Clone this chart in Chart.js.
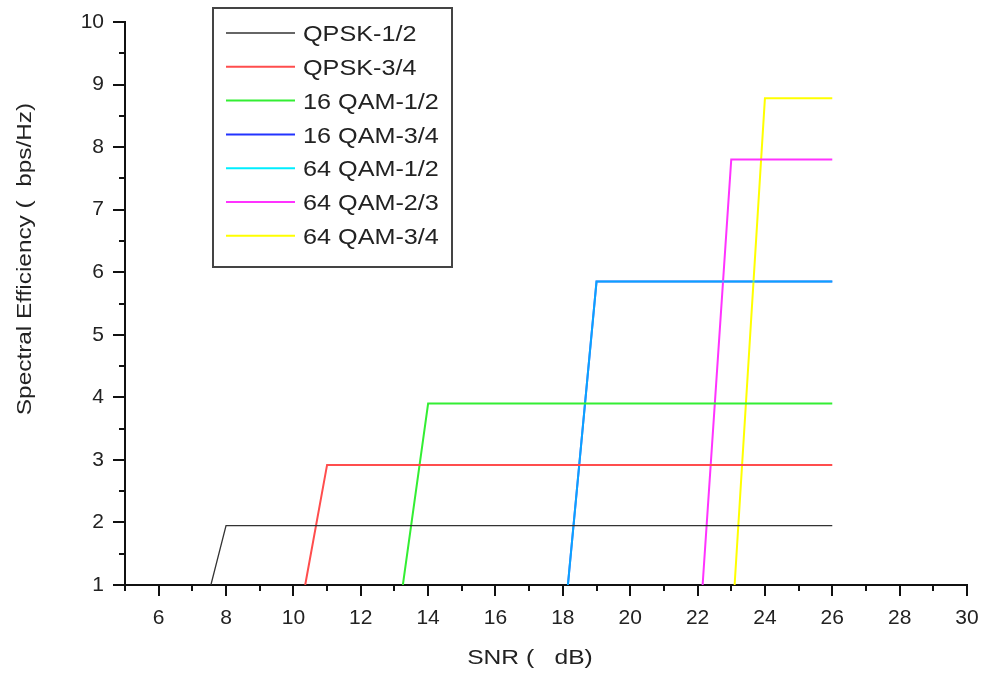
<!DOCTYPE html>
<html>
<head>
<meta charset="utf-8">
<script src="https://cdn.jsdelivr.net/npm/chart.js@4/dist/chart.umd.min.js"></script>
<style>
  html, body { margin: 0; padding: 0; background: #fff; }
  #wrap { width: 984px; height: 674px; }
</style>
</head>
<body>
<div id="wrap"><canvas id="c" width="984" height="674"></canvas></div>
<script>
// ---- data ----
const seriesLabels = ['QPSK-1/2', 'QPSK-3/4', '16 QAM-1/2', '16 QAM-3/4', '64 QAM-1/2', '64 QAM-2/3', '64 QAM-3/4'];
const seriesColors = ['#333333', '#ff4d4d', '#33ee33', '#2233ff', '#00eeff', '#ff33ff', '#ffff00'];

const snrQPSK12   = [7.55, 8, 26];
const effQPSK12   = [1, 1.95, 1.95];
const snrQPSK34   = [10.35, 11, 26];
const effQPSK34   = [1, 2.92, 2.92];
const snr16QAM12  = [13.25, 14, 26];
const eff16QAM12  = [1, 3.9, 3.9];
const snr16QAM34  = [18.15, 19, 26];
const eff16QAM34  = [1, 5.85, 5.85];
const snr64QAM12  = [18.15, 19, 26];
const eff64QAM12  = [1, 5.85, 5.85];
const snr64QAM23  = [22.15, 23, 26];
const eff64QAM23  = [1, 7.8, 7.8];
const snr64QAM34  = [23.1, 24, 26];
const eff64QAM34  = [1, 8.78, 8.78];

const xTickValues = [6, 8, 10, 12, 14, 16, 18, 20, 22, 24, 26, 28, 30];
const yTickValues = [1, 2, 3, 4, 5, 6, 7, 8, 9, 10];
const xTitle = 'SNR (   dB)';
const yTitle = 'Spectral Efficiency (  bps/Hz)';

const snrSets = [snrQPSK12, snrQPSK34, snr16QAM12, snr16QAM34, snr64QAM12, snr64QAM23, snr64QAM34];
const effSets = [effQPSK12, effQPSK34, eff16QAM12, eff16QAM34, eff64QAM12, eff64QAM23, eff64QAM34];

const datasets = seriesLabels.map((lab, i) => ({
  label: lab,
  data: snrSets[i].map((x, k) => ({ x: x, y: effSets[i][k] })),
  borderColor: i === 4 ? 'rgba(0,210,255,0.7)' : seriesColors[i],
  borderWidth: i === 0 ? 1.3 : 2,
  order: i === 3 ? 1 : 0,
  pointRadius: 0,
  fill: false,
  tension: 0
}));

const FONT = '"Liberation Sans", Arial, sans-serif';

function stretchedText(ctx, text, x, y, sx) {
  ctx.save();
  ctx.translate(x, y);
  ctx.scale(sx, 1);
  ctx.fillText(text, 0, 0);
  ctx.restore();
}

const decor = {
  id: 'decor',
  afterDraw(chart) {
    const ctx = chart.ctx;
    const xs = chart.scales.x, ys = chart.scales.y;
    const area = chart.chartArea;
    ctx.save();
    ctx.strokeStyle = '#111';
    ctx.lineWidth = 2;
    // x ticks
    for (let v = 5; v <= 30; v += 1) {
      const px = Math.round(xs.getPixelForValue(v));
      const len = (v % 2 === 0) ? 11 : 6;
      ctx.beginPath();
      ctx.moveTo(px, area.bottom);
      ctx.lineTo(px, area.bottom + len);
      ctx.stroke();
    }
    // y ticks
    for (let v = 1; v <= 10.001; v += 0.5) {
      const py = Math.round(ys.getPixelForValue(v));
      const len = (Math.abs(v - Math.round(v)) < 1e-6) ? 12 : 6;
      ctx.beginPath();
      ctx.moveTo(area.left, py);
      ctx.lineTo(area.left - len, py);
      ctx.stroke();
    }
    // axis titles
    ctx.fillStyle = '#222';
    ctx.font = '21px ' + FONT;
    ctx.textAlign = 'center';
    ctx.textBaseline = 'middle';
    stretchedText(ctx, xTitle, 530, 658, 1.17);
    ctx.save();
    ctx.translate(25, 259);
    ctx.rotate(-Math.PI / 2);
    stretchedText(ctx, yTitle, 0, 0, 1.16);
    ctx.restore();
    // legend box
    ctx.fillStyle = '#fff';
    ctx.fillRect(213, 8, 239, 259);
    ctx.strokeStyle = '#444';
    ctx.lineWidth = 2;
    ctx.strokeRect(213, 8, 239, 259);
    ctx.font = '22.5px ' + FONT;
    ctx.textAlign = 'left';
    chart.data.datasets.forEach((ds, i) => {
      const y = 33 + i * 33.8;
      ctx.strokeStyle = seriesColors[i];
      ctx.lineWidth = i === 0 ? 1.3 : 2;
      ctx.beginPath();
      ctx.moveTo(226, y);
      ctx.lineTo(295, y);
      ctx.stroke();
      ctx.fillStyle = '#222';
      stretchedText(ctx, ds.label, 303, y + 2, 1.12);
    });
    ctx.restore();
  }
};

new Chart(document.getElementById('c'), {
  type: 'line',
  data: { datasets: datasets },
  options: {
    responsive: false,
    animation: false,
    layout: { padding: { top: 22, right: 17, left: 0, bottom: 0 } },
    plugins: { legend: { display: false }, tooltip: { enabled: false } },
    scales: {
      x: {
        type: 'linear',
        min: 5, max: 30,
        afterFit: (s) => { s.height = 89; s.paddingLeft = 0; s.paddingRight = 0; },
        afterBuildTicks: (s) => { s.ticks = xTickValues.map(v => ({ value: v })); },
        grid: { display: false, drawTicks: false },
        border: { display: true, color: '#111', width: 2 },
        ticks: { autoSkip: false, maxRotation: 0, padding: 21, color: '#222', font: { family: FONT, size: 21 } }
      },
      y: {
        type: 'linear',
        min: 1, max: 10,
        afterFit: (s) => { s.width = 125; s.paddingTop = 0; s.paddingBottom = 0; },
        afterBuildTicks: (s) => { s.ticks = yTickValues.map(v => ({ value: v })); },
        grid: { display: false, drawTicks: false },
        border: { display: true, color: '#111', width: 2 },
        ticks: { autoSkip: false, padding: 21, color: '#222', font: { family: FONT, size: 21 } }
      }
    }
  },
  plugins: [decor]
});
</script>
</body>
</html>
